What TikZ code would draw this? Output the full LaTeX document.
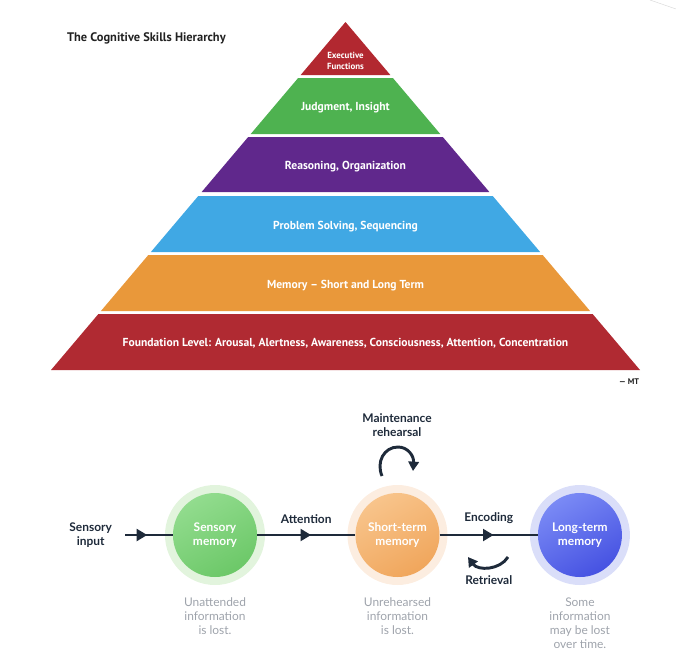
\documentclass[tikz,border=0pt]{standalone}
\usepackage{fontspec}
\newfontfamily\pyrfont{PT Sans}
\newfontfamily\flowfont{Lato}
\usepackage{xcolor}
\usepackage{tikz}
\usetikzlibrary{arrows.meta,positioning,calc,decorations.markings,backgrounds}

\definecolor{execred}{HTML}{B22830}
\definecolor{judggreen}{HTML}{4EB250}
\definecolor{reaspurple}{HTML}{60288C}
\definecolor{probblue}{HTML}{40A8E4}
\definecolor{memorange}{HTML}{E9983A}
\definecolor{foundred}{HTML}{B02A32}
\definecolor{titledark}{HTML}{222222}
\definecolor{navy}{HTML}{1E2A3A}
\definecolor{notegray}{HTML}{9EA3AB}
\definecolor{senstop}{HTML}{92DC8E}
\definecolor{sensbot}{HTML}{6CC868}
\definecolor{senshalo}{HTML}{E2F4DD}
\definecolor{stmtop}{HTML}{F8C48B}
\definecolor{stmbot}{HTML}{F0A65C}
\definecolor{stmhalo}{HTML}{FCEDE0}
\definecolor{ltmtop}{HTML}{7A8AF5}
\definecolor{ltmbot}{HTML}{4652E2}
\definecolor{ltmhalo}{HTML}{DADEF9}

\begin{document}
\begin{tikzpicture}[
    x=0.3mm, y=-0.3mm,
    node distance=2.94cm,
    layer/.style={text=white, align=center, font=\pyrfont\bfseries\fontsize{9.9}{11}\selectfont},
    memory/.style={circle, minimum size=2.52cm, inner sep=0pt, align=center, text=white, font=\flowfont\bfseries\fontsize{10.2}{11.5}\selectfont},
    flowlabel/.style={align=center, text=navy, font=\flowfont\bfseries\fontsize{10.2}{11.5}\selectfont},
    note/.style={align=center, text=notegray, font=\flowfont\fontsize{10.2}{12}\selectfont},
    flow/.style={line width=2.5pt, draw=navy, postaction={decorate},
        decoration={markings, mark=at position 0.55 with {\arrow{Triangle[length=9pt,width=10pt]}}}},
    curved/.style={line width=2.5pt, draw=navy, -{Triangle[length=8pt,width=9pt]}}
]
    \useasboundingbox (0,0) rectangle (676,668);
    \draw[black!15] (650,0) -- (676,9);

    % pyramid
    \coordinate (apex) at (345.5,22);
    \coordinate (baseL) at (51,370);
    \coordinate (baseR) at (640,370);
    \foreach \ya/\yb/\col in {22/75/execred, 78/134/judggreen, 137/192/reaspurple,
                               196/252/probblue, 255/311/memorange, 314/370/foundred}
        \fill[\col] ($(apex)!{(\ya-22)/348}!(baseL)$) -- ($(apex)!{(\ya-22)/348}!(baseR)$)
            -- ($(apex)!{(\yb-22)/348}!(baseR)$) -- ($(apex)!{(\yb-22)/348}!(baseL)$) -- cycle;

    \node[anchor=west, text=titledark, font=\pyrfont\bfseries\fontsize{10.6}{12}\selectfont] (title) at (63,38) {The Cognitive Skills Hierarchy};
    \node[layer, font=\pyrfont\bfseries\fontsize{7.6}{9}\selectfont] (exec) at (345.5,61) {Executive\\Functions};
    \node[layer] (judg) at (345.5,108) {Judgment, Insight};
    \node[layer] (reas) at (345.5,167) {Reasoning, Organization};
    \node[layer] (prob) at (345.5,227) {Problem Solving, Sequencing};
    \node[layer] (mem) at (345.5,286) {Memory – Short and Long Term};
    \node[layer] (found) at (345.5,343) {Foundation Level: Arousal, Alertness, Awareness, Consciousness, Attention, Concentration};
    \node[text=titledark, font=\pyrfont\bfseries\fontsize{7}{8}\selectfont] (sign) at (629,382) {— MT};

    % memory model
    \node[memory, top color=senstop, bottom color=sensbot, shading angle=30] (sens) at (215,535) {Sensory\\memory};
    \node[memory, top color=stmtop, bottom color=stmbot, shading angle=30, right=of sens] (stm) {Short-term\\memory};
    \node[memory, top color=ltmtop, bottom color=ltmbot, shading angle=30, right=of stm] (ltm) {Long-term\\memory};
    \node[flowlabel, left=1.7cm of sens] (input) {Sensory\\input};

    \begin{scope}[on background layer]
        \fill[senshalo] (sens) circle (1.5cm);
        \fill[stmhalo] (stm) circle (1.5cm);
        \fill[ltmhalo] (ltm) circle (1.5cm);
    \end{scope}

    \draw[flow, shorten <=0.27cm] (input) -- (sens);
    \draw[flow] (sens) -- node[flowlabel, above=5pt] (attn) {Attention} (stm);
    \draw[flow] (stm) -- node[flowlabel, above=5pt] (enc) {Encoding} (ltm);

    \coordinate (retr-a) at (508,557);
    \coordinate (retr-b) at (468,557);
    \draw[curved] (retr-a) .. controls (500,570) and (478,571) .. (retr-b)
        node[flowlabel, midway, below=3pt] (retr) {Retrieval};

    \coordinate (loop-a) at (382,476);
    \coordinate (loop-b) at (413,471);
    \draw[curved] (loop-a) .. controls (376,462) and (384,447) .. (398,447)
        .. controls (408,447) and (414,456) .. (loop-b);
    \node[flowlabel] (maint) at (397,425) {Maintenance\\rehearsal};

    \node[note, below=0.5cm of sens] (lost1) {Unattended\\information\\is lost.};
    \node[note, below=0.5cm of stm] (lost2) {Unrehearsed\\information\\is lost.};
    \node[note, below=0.5cm of ltm] (lost3) {Some\\information\\may be lost\\over time.};
\end{tikzpicture}
\end{document}
